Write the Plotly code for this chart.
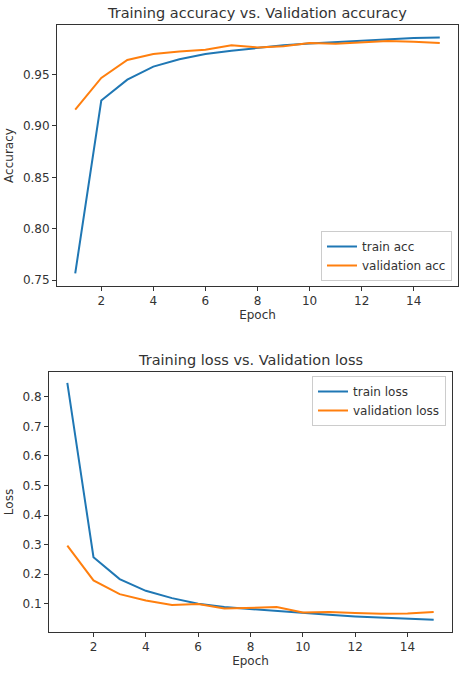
import plotly.graph_objects as go

epochs = list(range(1, 16))

train_acc = [0.7565, 0.9248, 0.9451, 0.9578, 0.9649, 0.9700, 0.9733, 0.9760,
             0.9785, 0.9804, 0.9817, 0.9837, 0.9843, 0.9856, 0.9862]
val_acc = [0.9160, 0.9468, 0.9643, 0.9700, 0.9726, 0.9743, 0.9785, 0.9765,
           0.9775, 0.9807, 0.9800, 0.9810, 0.9827, 0.9820, 0.9807]

train_loss = [0.847, 0.2576, 0.1833, 0.1439, 0.1191, 0.1000, 0.0887, 0.0820,
              0.0741, 0.0685, 0.0629, 0.0572, 0.0540, 0.0505, 0.0460]
val_loss = [0.297, 0.1788, 0.1326, 0.1113, 0.0955, 0.0990, 0.0842, 0.0876,
            0.0887, 0.0707, 0.0718, 0.0685, 0.0660, 0.0670, 0.0720]

BLUE = "#1f77b4"
ORANGE = "#ff7f0e"
INK = "#333333"
W, H = 474, 678
FS = 12

fig = go.Figure()
fig.add_trace(go.Scatter(x=epochs, y=train_acc, mode="lines", name="train acc",
                         line=dict(color=BLUE, width=2), xaxis="x", yaxis="y", legend="legend"))
fig.add_trace(go.Scatter(x=epochs, y=val_acc, mode="lines", name="validation acc",
                         line=dict(color=ORANGE, width=2), xaxis="x", yaxis="y", legend="legend"))
fig.add_trace(go.Scatter(x=epochs, y=train_loss, mode="lines", name="train loss",
                         line=dict(color=BLUE, width=2), xaxis="x2", yaxis="y2", legend="legend2"))
fig.add_trace(go.Scatter(x=epochs, y=val_loss, mode="lines", name="validation loss",
                         line=dict(color=ORANGE, width=2), xaxis="x2", yaxis="y2", legend="legend2"))

axis_common = dict(showgrid=False, zeroline=False, showline=True, mirror=True,
                   linecolor=INK, linewidth=1, ticks="outside", ticklen=4,
                   tickcolor=INK, tickfont=dict(size=FS, color=INK), automargin=False)

# pixel boxes
def dom_x(a, b):
    return [a / W, b / W]

def dom_y(top, bottom):
    return [1 - bottom / H, 1 - top / H]

fig.update_layout(
    width=W, height=H,
    margin=dict(l=0, r=0, t=0, b=0),
    paper_bgcolor="white", plot_bgcolor="white",
    font=dict(family="DejaVu Sans", color=INK, size=FS),
    xaxis=dict(axis_common, domain=dom_x(57, 458), anchor="y", range=[0.3, 15.7],
               tickvals=[2, 4, 6, 8, 10, 12, 14],
               title=dict(text="Epoch", standoff=3, font=dict(size=FS))),
    yaxis=dict(axis_common, domain=dom_y(25, 286), anchor="x", range=[0.7442, 0.9983],
               tickvals=[0.75, 0.80, 0.85, 0.90, 0.95], tickformat=".2f",
               title=dict(text="Accuracy", standoff=6, font=dict(size=FS))),
    xaxis2=dict(axis_common, domain=dom_x(49, 452), anchor="y2", range=[0.3, 15.7],
                tickvals=[2, 4, 6, 8, 10, 12, 14],
                title=dict(text="Epoch", standoff=3, font=dict(size=FS))),
    yaxis2=dict(axis_common, domain=dom_y(372, 632), anchor="x2", range=[0.0045, 0.884],
                tickvals=[0.1, 0.2, 0.3, 0.4, 0.5, 0.6, 0.7, 0.8], tickformat=".1f",
                title=dict(text="Loss", standoff=6, font=dict(size=FS))),
    legend=dict(x=452 / W, y=1 - 281 / H, xanchor="right", yanchor="bottom",
                bgcolor="rgba(255,255,255,0.8)", bordercolor="#cccccc", borderwidth=1,
                font=dict(size=FS, color=INK), tracegroupgap=0),
    legend2=dict(x=446 / W, y=1 - 376 / H, xanchor="right", yanchor="top",
                 bgcolor="rgba(255,255,255,0.8)", bordercolor="#cccccc", borderwidth=1,
                 font=dict(size=FS, color=INK), tracegroupgap=0),
    annotations=[
        dict(text="Training accuracy vs. Validation accuracy", x=257 / W, y=1 - 13 / H,
             xref="paper", yref="paper", showarrow=False, font=dict(size=14.5, color=INK),
             xanchor="center", yanchor="middle"),
        dict(text="Training loss vs. Validation loss", x=250 / W, y=1 - 360 / H,
             xref="paper", yref="paper", showarrow=False, font=dict(size=14.5, color=INK),
             xanchor="center", yanchor="middle"),
    ],
)

# the page body has a default 8px margin, drop it so the figure fills the window
fig.write_html("out.html", config={"displayModeBar": False},
               post_script="document.body.style.margin = '0';")
